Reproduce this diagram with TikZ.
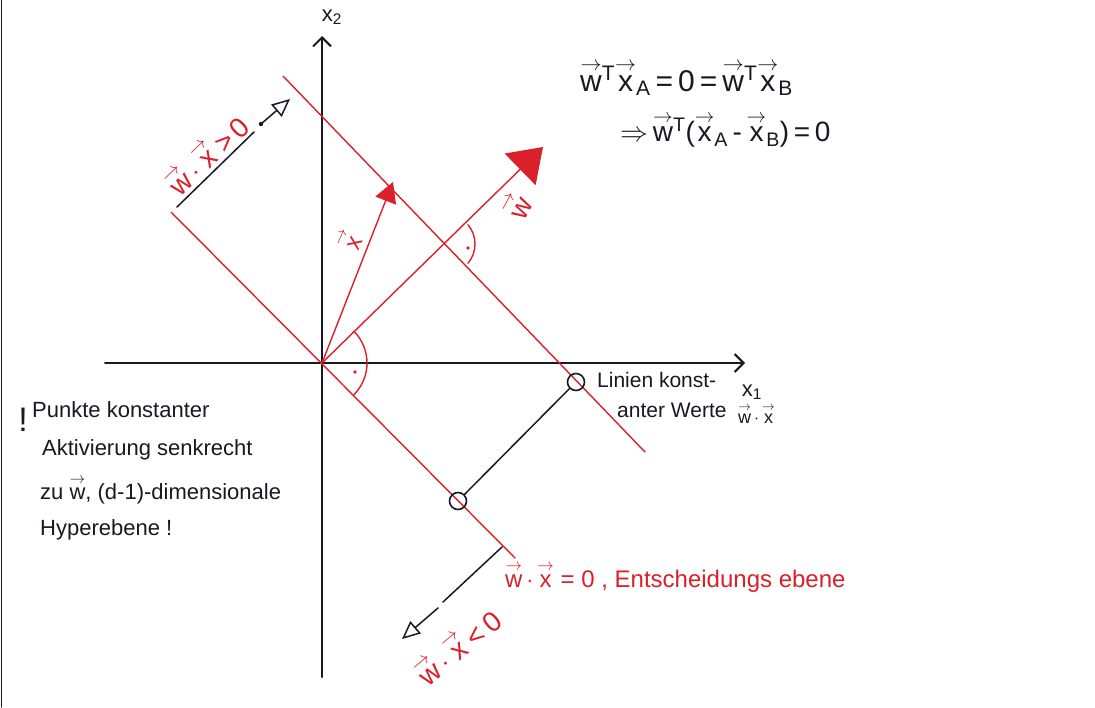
\RequirePackage{fix-cm}
\documentclass[tikz,border=0pt]{standalone}
\usepackage{amsmath}
\usepackage{fontspec}
\setmainfont{Liberation Sans}
\usetikzlibrary{arrows.meta}
\definecolor{pen}{RGB}{25,25,35}
\definecolor{rd}{RGB}{218,32,42}
\newcommand\va[1]{\ensuremath{\overset{\rightarrow}{\mbox{#1}}}}
\newcommand\fs[1]{\fontsize{#1}{#1}\selectfont}
\begin{document}
\begin{tikzpicture}[x=1pt,y=-1pt,line cap=round,
  axis/.style={draw=pen,line width=2pt,-{Straight Barb[length=9pt,width=18pt,line width=2pt]}},
  redline/.style={draw=rd,line width=1.4pt},
  blackline/.style={draw=pen,line width=1.5pt},
  redtext/.style={text=rd,inner sep=0pt},
  blacktext/.style={text=pen,inner sep=0pt},
  ptcircle/.style={circle,draw=pen,line width=1.6pt,minimum size=17pt,inner sep=0pt},
  openhead/.style={-{Triangle[open,length=18pt,width=16pt,line width=1.5pt]}}]
\useasboundingbox (0,0) rectangle (1095,707);
\fill[white] (0,0) rectangle (1095,707);
% page edge
\coordinate (E1) at (1.5,0);
\coordinate (E2) at (1.5,707);
\draw[pen,line width=1.2pt] (E1) -- (E2);

% axes
\coordinate (O) at (322,363);
\coordinate (X0) at (105,363);
\coordinate (X1) at (745,363);
\coordinate (Y0) at (322,677);
\coordinate (Y1) at (322,36);
\draw[axis] (X0) -- (X1);
\draw[axis] (Y0) -- (Y1);
\node[blacktext,font=\fs{22}] (x2lab) at (332,17) {x\textsubscript{2}};
\node[blacktext,font=\fs{22}] (x1lab) at (752,392) {x\textsubscript{1}};

% red lines
\coordinate (D1) at (171,212);
\coordinate (D2) at (515,558);
\coordinate (L1) at (283,76);
\coordinate (L2) at (645,452);
\draw[redline] (D1) -- (D2);
\draw[redline] (L1) -- (L2);

% vectors
\coordinate (wtip) at (543,147);
\coordinate (xtip) at (393,182);
\draw[redline,-{Triangle[length=32pt,width=44pt]}] (O) -- (wtip);
\draw[redline,-{Triangle[length=20pt,width=22pt]}] (O) -- (xtip);
\node[redtext,font=\fs{28},rotate=62] (wlab) at (516,206) {\va{w}};
\node[redtext,font=\fs{24},rotate=66] (xlab) at (349,241) {\va{x}};

% right angles
\coordinate (I) at (445,244);
\draw[redline] (O) ++(-45:45) arc[start angle=-45,end angle=45,radius=45];
\draw[redline] (I) ++(-40:30) arc[start angle=-40,end angle=40,radius=30];
\fill[rd] (355,372) circle (1.8);
\fill[rd] (468,248) circle (1.8);

% points of constant activation
\node[ptcircle] (A) at (458,501) {};
\node[ptcircle] (B) at (576,382) {};
\draw[blackline] (A) -- (B);

% direction arrows
\coordinate (P1) at (177,207);
\coordinate (P2) at (254,132);
\coordinate (P3) at (261,124);
\coordinate (P4) at (290,99);
\draw[blackline] (P1) -- (P2);
\fill[pen] (P3) circle (2.2);
\draw[blackline,openhead] (P3) -- (P4);
\coordinate (Q1) at (502,547);
\coordinate (Q2) at (443,602);
\coordinate (Q3) at (438,608);
\coordinate (Q4) at (402,639);
\draw[blackline] (Q1) -- (Q2);
\draw[blackline,openhead] (Q3) -- (Q4);

\node[redtext,font=\fs{28},rotate=44] (gt) at (206,153) {\va{w}\,$\cdot$\,\va{x}\,>\,0};
\node[redtext,font=\fs{28},rotate=40] (lt) at (457,645) {\va{w}\,$\cdot$\,\va{x}\,<\,0};
\node[redtext,font=\fs{24},anchor=west] (dec) at (505,577) {\va{w}\,$\cdot$\,\va{x} = 0 , Entscheidungs ebene};

% equations
\node[blacktext,font=\fs{30},anchor=west] (eq1) at (580,78) {\va{w}\textsuperscript{T}\va{x}\textsubscript{A}\,=\,0\,=\,\va{w}\textsuperscript{T}\va{x}\textsubscript{B}};
\node[blacktext,font=\fs{28},anchor=west] (eq2) at (620,130) {$\Rightarrow$\,\va{w}\textsuperscript{T}(\va{x}\textsubscript{A}\,-\,\va{x}\textsubscript{B})\,=\,0};

% lines of constant value
\node[blacktext,font=\fs{21},anchor=west] (lin1) at (597,380) {Linien konst-};
\node[blacktext,font=\fs{21},anchor=west] (lin2) at (617,410) {anter Werte};
\node[blacktext,font=\fs{18},anchor=west] (lin3) at (738,414) {\va{w}\,$\cdot$\,\va{x}};

% note
\node[blacktext,font=\fs{34}] (bang) at (23,420) {!};
\node[blacktext,font=\fs{22},anchor=west] (n1) at (32,410) {Punkte konstanter};
\node[blacktext,font=\fs{22},anchor=west] (n2) at (42,450) {Aktivierung senkrecht};
\node[blacktext,font=\fs{22},anchor=west] (n3) at (40,490) {zu \va{w}, (d-1)-dimensionale};
\node[blacktext,font=\fs{22},anchor=west] (n4) at (40,530) {Hyperebene !};
\end{tikzpicture}
\end{document}
